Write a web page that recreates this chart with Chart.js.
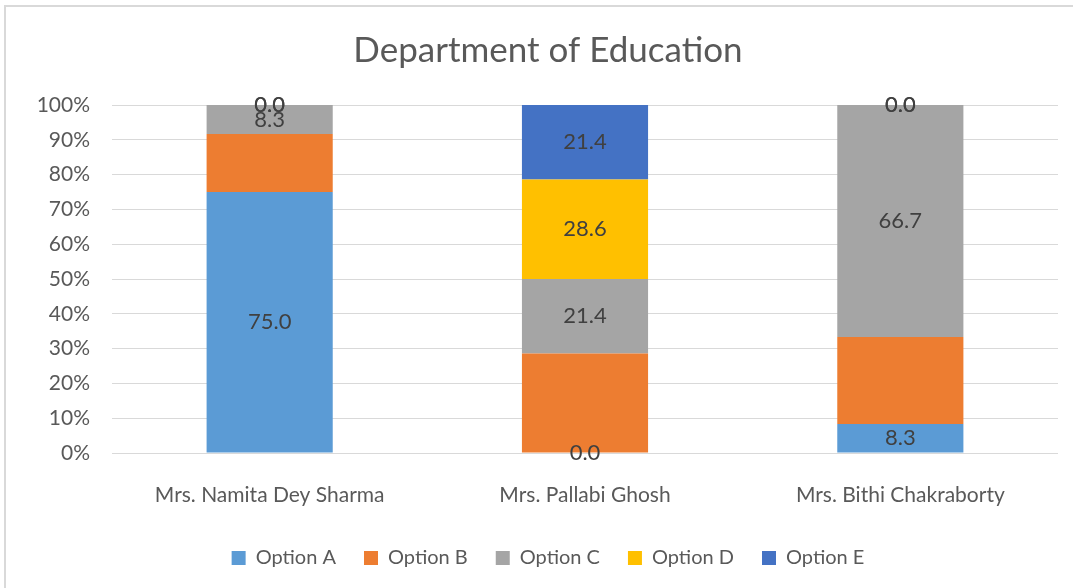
<!DOCTYPE html>
<html>
<head>
<meta charset="utf-8">
<script src="https://cdn.jsdelivr.net/npm/chart.js@4.4.1/dist/chart.umd.min.js"></script>
<style>
  html, body { margin: 0; padding: 0; background: #fff; overflow: hidden; }
  #frame { position: absolute; left: 4px; top: 5px; width: 2000px; height: 2000px; border: 2px solid #d9d9d9; }
  #chart { position: absolute; left: 0; top: 0; }
</style>
</head>
<body>
<div id="frame"></div>
<canvas id="chart" width="1073" height="588"></canvas>
<script>
// kategorije (nastavnici)
const teachers = ['Mrs. Namita Dey Sharma', 'Mrs. Pallabi Ghosh', 'Mrs. Bithi Chakraborty'];

// postoci po opcijama
const optionA = [75.0, 0.0, 8.3];
const optionB = [16.7, 28.6, 25.0];
const optionC = [8.3, 21.4, 66.7];
const optionD = [0.0, 28.6, 0.0];
const optionE = [0.0, 21.4, 0.0];

const yTicks = [0, 10, 20, 30, 40, 50, 60, 70, 80, 90, 100];

// Option B nema oznake na slici
const labelled = [true, false, true, true, true];

const font = 'Lato, "Liberation Sans", sans-serif';

const barLabels = {
    id: 'barLabels',
    afterDatasetsDraw(chart) {
        const ctx = chart.ctx;
        ctx.save();
        ctx.font = '22px ' + font;
        ctx.fillStyle = '#404040';
        ctx.textAlign = 'center';
        ctx.textBaseline = 'middle';
        chart.data.datasets.forEach((ds, i) => {
            if (!labelled[i]) return;
            chart.getDatasetMeta(i).data.forEach((bar, j) => {
                const p = bar.getProps(['x', 'y', 'base'], true);
                ctx.fillText(ds.data[j].toFixed(1), p.x, (p.y + p.base) / 2);
            });
        });
        ctx.restore();
    }
};

new Chart(document.getElementById('chart'), {
    type: 'bar',
    data: {
        labels: teachers,
        datasets: [
            { label: 'Option A', data: optionA, backgroundColor: '#5B9BD5' },
            { label: 'Option B', data: optionB, backgroundColor: '#ED7D31' },
            { label: 'Option C', data: optionC, backgroundColor: '#A5A5A5' },
            { label: 'Option D', data: optionD, backgroundColor: '#FFC000' },
            { label: 'Option E', data: optionE, backgroundColor: '#4472C4' }
        ]
    },
    options: {
        responsive: false,
        animation: false,
        layout: { padding: { left: 38, right: 15, top: 30, bottom: 10 } },
        datasets: { bar: { categoryPercentage: 1, barPercentage: 0.4 } },
        plugins: {
            title: {
                display: true,
                text: 'Department of Education',
                color: '#595959',
                font: { family: font, size: 35, weight: 'normal' },
                padding: { top: 0, bottom: 33 }
            },
            legend: {
                position: 'bottom',
                labels: {
                    color: '#595959',
                    font: { family: font, size: 20 },
                    boxWidth: 14,
                    boxHeight: 14,
                    padding: 28
                }
            },
            tooltip: { enabled: false }
        },
        scales: {
            x: {
                stacked: true,
                grid: { display: false },
                border: { display: false },
                afterFit: axis => { axis.height = 67; },
                ticks: { color: '#595959', font: { family: font, size: 21 }, padding: 22 }
            },
            y: {
                stacked: true,
                min: 0,
                max: 100,
                afterBuildTicks: axis => { axis.ticks = yTicks.map(v => ({ value: v })); },
                afterFit: axis => { axis.width = 74; },
                grid: { color: '#d9d9d9', drawTicks: false },
                border: { display: false },
                ticks: {
                    color: '#595959',
                    font: { family: font, size: 21 },
                    padding: 22,
                    callback: v => v + '%'
                }
            }
        }
    },
    plugins: [barLabels]
});
</script>
</body>
</html>
